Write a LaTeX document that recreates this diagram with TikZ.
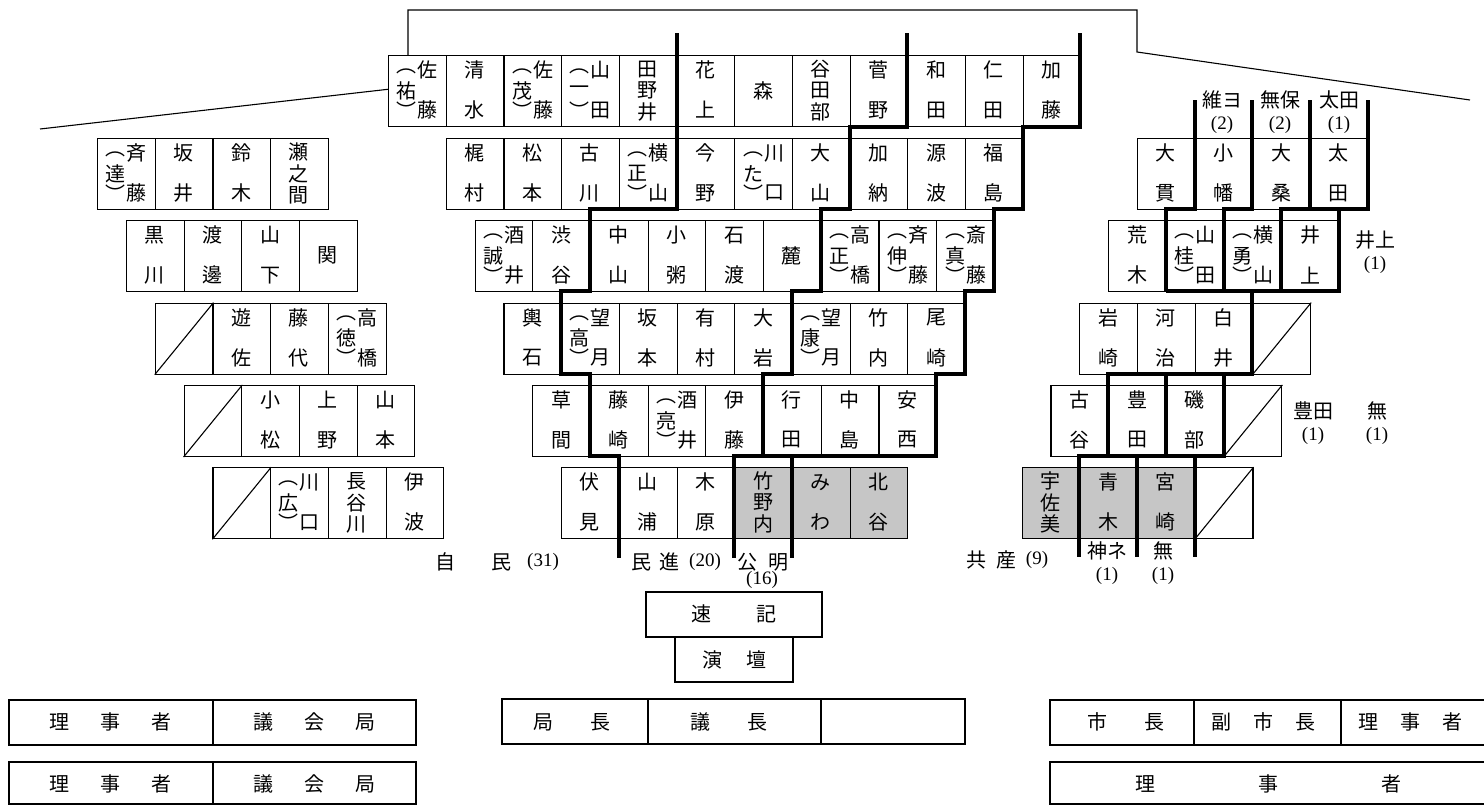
\documentclass[tikz,border=0pt]{standalone}
\usepackage{fontspec}
\newfontfamily\jp{Noto Sans CJK JP}
\newfontfamily\numfont{Liberation Serif}
\usetikzlibrary{positioning}
\tikzset{
  seatline/.style={line width=1.1pt},
  seat/.style={draw, seatline, anchor=north west, inner sep=0pt,
    minimum width=57.7pt, minimum height=71pt},
  party/.style={line width=4pt},
  jpfont/.style={font=\jp\fontsize{20}{22}\selectfont, inner sep=0pt},
  plabel/.style={jpfont, align=center},
}
\newcommand\cw{57.7}
\newcommand\ch{71}
\newcommand\pnum[1]{{\numfont\fontsize{19}{22}\selectfont #1}}
% seat kinds, drawn from the top left corner of the seat
\newcommand\nmone[2][white]{%
  \node[seat, fill=#1] (\seatname) at (0,0) {};
  \node[jpfont] (\seatname-a) at (\cw/2,\ch/2) {#2};}
\newcommand\nmtwo[3][white]{%
  \node[seat, fill=#1] (\seatname) at (0,0) {};
  \node[jpfont] (\seatname-a) at (\cw/2,15) {#2};
  \node[jpfont] (\seatname-b) at (\cw/2,\ch-16) {#3};}
\newcommand\nmthree[4][white]{%
  \node[seat, fill=#1] (\seatname) at (0,0) {};
  \node[jpfont] (\seatname-a) at (\cw/2,14) {#2};
  \node[jpfont] (\seatname-b) at (\cw/2,\ch/2) {#3};
  \node[jpfont] (\seatname-c) at (\cw/2,\ch-14) {#4};}
\newcommand\nmparen[3]{%
  \node[seat, fill=white] (\seatname) at (0,0) {};
  \node[jpfont] (\seatname-o) at (\cw/2-10,16) {︵};
  \node[jpfont] (\seatname-g) at (\cw/2-10,\ch/2) {#1};
  \node[jpfont] (\seatname-e) at (\cw/2-10,\ch-16) {︶};
  \node[jpfont] (\seatname-a) at (\cw/2+11,15) {#2};
  \node[jpfont] (\seatname-b) at (\cw/2+11,\ch-16) {#3};}
\newcommand\nmvoid{%
  \node[seat, fill=white] (\seatname) at (0,0) {};
  \draw[seatline] (\seatname.south west) -- (\seatname.north east);}
% one row of seats: name, left x, top y, seats
\newcommand\seatrow[4]{%
  \foreach \seatitem [count=\k] in {#4} {%
    \begin{scope}[shift={(#2+\k*\cw-\cw,#3)}]
      \edef\seatname{#1-\k}%
      \seatitem
    \end{scope}}}

\begin{document}
\begin{tikzpicture}[x=1pt, y=-1pt]
\useasboundingbox (0,0) rectangle (1484,806);
\draw[seatline] (40,129) -- (408,87) -- (408,10) -- (1137,10) -- (1137,52) -- (1470,100);

% centre rows
\seatrow{c1}{388}{55}{\nmparen{祐}{佐}{藤}, \nmtwo{清}{水}, \nmparen{茂}{佐}{藤},
  \nmparen{一}{山}{田}, \nmthree{田}{野}{井}, \nmtwo{花}{上}, \nmone{森},
  \nmthree{谷}{田}{部}, \nmtwo{菅}{野}, \nmtwo{和}{田}, \nmtwo{仁}{田}, \nmtwo{加}{藤}}
\seatrow{c2}{445.7}{138}{\nmtwo{梶}{村}, \nmtwo{松}{本}, \nmtwo{古}{川},
  \nmparen{正}{横}{山}, \nmtwo{今}{野}, \nmparen{た}{川}{口}, \nmtwo{大}{山},
  \nmtwo{加}{納}, \nmtwo{源}{波}, \nmtwo{福}{島}}
\seatrow{c3}{474.55}{220.3}{\nmparen{誠}{酒}{井}, \nmtwo{渋}{谷}, \nmtwo{中}{山},
  \nmtwo{小}{粥}, \nmtwo{石}{渡}, \nmone{麓}, \nmparen{正}{高}{橋},
  \nmparen{伸}{斉}{藤}, \nmparen{真}{斎}{藤}}
\seatrow{c4}{503.4}{302.6}{\nmtwo{輿}{石}, \nmparen{高}{望}{月}, \nmtwo{坂}{本},
  \nmtwo{有}{村}, \nmtwo{大}{岩}, \nmparen{康}{望}{月}, \nmtwo{竹}{内}, \nmtwo{尾}{崎}}
\seatrow{c5}{532.25}{384.9}{\nmtwo{草}{間}, \nmtwo{藤}{崎}, \nmparen{亮}{酒}{井},
  \nmtwo{伊}{藤}, \nmtwo{行}{田}, \nmtwo{中}{島}, \nmtwo{安}{西}}
\seatrow{c6}{561.1}{467.2}{\nmtwo{伏}{見}, \nmtwo{山}{浦}, \nmtwo{木}{原},
  \nmthree[gray!45]{竹}{野}{内}, \nmtwo[gray!45]{み}{わ}, \nmtwo[gray!45]{北}{谷}}

% left rows
\seatrow{l1}{97}{138}{\nmparen{達}{斉}{藤}, \nmtwo{坂}{井}, \nmtwo{鈴}{木}, \nmthree{瀬}{之}{間}}
\seatrow{l2}{125.85}{220.3}{\nmtwo{黒}{川}, \nmtwo{渡}{邊}, \nmtwo{山}{下}, \nmone{関}}
\seatrow{l3}{154.7}{302.6}{\nmvoid, \nmtwo{遊}{佐}, \nmtwo{藤}{代}, \nmparen{徳}{高}{橋}}
\seatrow{l4}{183.55}{384.9}{\nmvoid, \nmtwo{小}{松}, \nmtwo{上}{野}, \nmtwo{山}{本}}
\seatrow{l5}{212.4}{467.2}{\nmvoid, \nmparen{広}{川}{口}, \nmthree{長}{谷}{川}, \nmtwo{伊}{波}}

% right rows
\seatrow{r1}{1137}{138}{\nmtwo{大}{貫}, \nmtwo{小}{幡}, \nmtwo{大}{桑}, \nmtwo{太}{田}}
\seatrow{r2}{1108.15}{220.3}{\nmtwo{荒}{木}, \nmparen{桂}{山}{田}, \nmparen{勇}{横}{山}, \nmtwo{井}{上}}
\seatrow{r3}{1079.3}{302.6}{\nmtwo{岩}{崎}, \nmtwo{河}{治}, \nmtwo{白}{井}, \nmvoid}
\seatrow{r4}{1050.45}{384.9}{\nmtwo{古}{谷}, \nmtwo{豊}{田}, \nmtwo{磯}{部}, \nmvoid}
\seatrow{r5}{1021.6}{467.2}{\nmthree[gray!45]{宇}{佐}{美}, \nmtwo[gray!45]{青}{木},
  \nmtwo[gray!45]{宮}{崎}, \nmvoid}

% party borders
\draw[party] (676.5,33) -- (676.5,209) -- (589.95,209) -- (589.95,291.3) -- (561.1,291.3)
  -- (561.1,373.6) -- (589.95,373.6) -- (589.95,455.9) -- (618.8,455.9) -- (618.8,558);
\draw[party] (907.3,33) -- (907.3,127) -- (849.6,127) -- (849.6,209) -- (820.75,209)
  -- (820.75,291.3) -- (791.9,291.3) -- (791.9,373.6) -- (763.05,373.6) -- (763.05,455.9)
  -- (734.2,455.9) -- (734.2,558);
\draw[party] (1080.4,33) -- (1080.4,127) -- (1022.7,127) -- (1022.7,209) -- (993.85,209)
  -- (993.85,291.3) -- (965,291.3) -- (965,373.6) -- (936.15,373.6) -- (936.15,455.9)
  -- (763.05,455.9);
\draw[party] (791.9,455.9) -- (791.9,558);
\draw[party] (1194.7,100) -- (1194.7,209) -- (1165.85,209) -- (1165.85,291.3);
\draw[party] (1252.4,100) -- (1252.4,209) -- (1223.55,209) -- (1223.55,291.3);
\draw[party] (1310.1,100) -- (1310.1,209) -- (1281.25,209) -- (1281.25,291.3);
\draw[party] (1367.8,100) -- (1367.8,209) -- (1281.25,209);
\draw[party] (1338.95,209) -- (1338.95,291.3) -- (1165.85,291.3);
\draw[party] (1252.4,291.3) -- (1252.4,373.6) -- (1108.15,373.6) -- (1108.15,455.9);
\draw[party] (1165.85,373.6) -- (1165.85,455.9);
\draw[party] (1223.55,373.6) -- (1223.55,455.9) -- (1079.3,455.9) -- (1079.3,557);
\draw[party] (1137,455.9) -- (1137,557);
\draw[party] (1194.7,455.9) -- (1194.7,557);

% party labels
\node[jpfont] (ldp1) at (445,562) {自};
\node[jpfont] (ldp2) at (501,562) {民};
\node[jpfont] (ldp3) at (543,562) {\pnum{(31)}};
\node[jpfont] (dp1) at (641,562) {民};
\node[jpfont] (dp2) at (669,562) {進};
\node[jpfont] (dp3) at (705,562) {\pnum{(20)}};
\node[jpfont] (kmt1) at (747,562) {公};
\node[jpfont] (kmt2) at (778,562) {明};
\node[jpfont] (kmt3) at (762,580) {\pnum{(16)}};
\node[jpfont] (jcp1) at (976,560) {共};
\node[jpfont] (jcp2) at (1006,560) {産};
\node[jpfont] (jcp3) at (1037,560) {\pnum{(9)}};
\node[plabel] (shin) at (1107,563) {神ネ\\\pnum{(1)}};
\node[plabel] (mu1) at (1163,563) {無\\\pnum{(1)}};
\node[plabel] (ishin) at (1222,112) {維ヨ\\\pnum{(2)}};
\node[plabel] (muho) at (1280,112) {無保\\\pnum{(2)}};
\node[plabel] (ota) at (1339,112) {太田\\\pnum{(1)}};
\node[plabel] (inoue) at (1375,252) {井上\\\pnum{(1)}};
\node[plabel] (toyoda) at (1313,423) {豊田\\\pnum{(1)}};
\node[plabel] (mu2) at (1377,423) {無\\\pnum{(1)}};

% rostrum
\draw[seatline] (646,592) rectangle (822,637);
\node[jpfont] (sokki) at (734,614) {速\hspace{45pt}記};
\draw[seatline] (675,637) rectangle (793,682);
\node[jpfont] (endan) at (734,660) {演\hspace{24pt}壇};

% front desks
\draw[seatline] (9,700) rectangle (416,745) (213,700) -- (213,745);
\draw[seatline] (9,762) rectangle (416,804) (213,762) -- (213,804);
\node[jpfont] (riji1) at (110,722) {理\hspace{31pt}事\hspace{31pt}者};
\node[jpfont] (gikai1) at (314,722) {議\hspace{31pt}会\hspace{31pt}局};
\node[jpfont] (riji2) at (110,784) {理\hspace{31pt}事\hspace{31pt}者};
\node[jpfont] (gikai2) at (314,784) {議\hspace{31pt}会\hspace{31pt}局};
\draw[seatline] (502,699) rectangle (965,744) (648,699) -- (648,744) (821,699) -- (821,744);
\node[jpfont] (kyoku) at (572,722) {局\hspace{37pt}長};
\node[jpfont] (gicho) at (729,722) {議\hspace{37pt}長};
\draw[seatline] (1490,700) -- (1050,700) -- (1050,745) -- (1490,745)
  (1194,700) -- (1194,745) (1341,700) -- (1341,745);
\draw[seatline] (1490,762) -- (1050,762) -- (1050,804) -- (1490,804);
\node[jpfont] (shicho) at (1126,722) {市\hspace{37pt}長};
\node[jpfont] (fuku) at (1263,722) {副\hspace{22pt}市\hspace{22pt}長};
\node[jpfont] (riji3) at (1410,722) {理\hspace{22pt}事\hspace{22pt}者};
\node[jpfont] (riji4) at (1268,784) {理\hspace{103pt}事\hspace{103pt}者};
\end{tikzpicture}
\end{document}
